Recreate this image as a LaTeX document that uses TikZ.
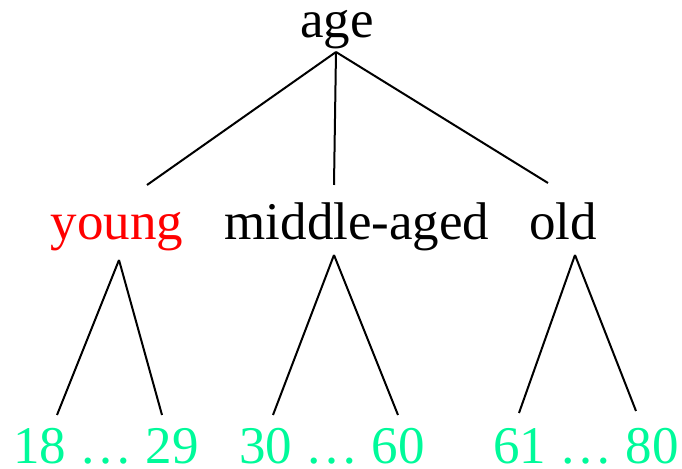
\documentclass[tikz,border=0pt]{standalone}
\usepackage{fontspec}
\setmainfont{Liberation Serif}
\definecolor{rangegreen}{RGB}{0,250,154}
\begin{document}
\begin{tikzpicture}[x=0.5pt,y=-0.5pt,
  lbl/.style={anchor=base,inner sep=0pt,font=\fontsize{26.5pt}{30pt}\selectfont},
  edge/.style={line width=1pt,black}]
\useasboundingbox (0,0) rectangle (682,469);
% labels
\node[lbl] (age) at (337,38) {age};
\node[lbl,text=red] (young) at (117,240) {young};
\node[lbl] (middle) at (357,240) {middle-aged};
\node[lbl] (old) at (563,240) {old};
\node[lbl,text=rangegreen] (r1) at (106,464) {18 … 29};
\node[lbl,text=rangegreen] (r2) at (332,464) {30 … 60};
\node[lbl,text=rangegreen] (r3) at (586,464) {61 … 80};
% connector ends
\coordinate (ageB) at (336,52);
\coordinate (youngT) at (147,185);
\coordinate (middleT) at (334,185);
\coordinate (oldT) at (548,183);
\coordinate (youngB) at (119,260);
\coordinate (middleB) at (334,255);
\coordinate (oldB) at (575,255);
\coordinate (r1L) at (57,415);
\coordinate (r1R) at (162,415);
\coordinate (r2L) at (273,415);
\coordinate (r2R) at (398,415);
\coordinate (r3L) at (519,413);
\coordinate (r3R) at (636,411);
% connectors
\draw[edge] (ageB) -- (youngT);
\draw[edge] (ageB) -- (middleT);
\draw[edge] (ageB) -- (oldT);
\draw[edge] (youngB) -- (r1L);
\draw[edge] (youngB) -- (r1R);
\draw[edge] (middleB) -- (r2L);
\draw[edge] (middleB) -- (r2R);
\draw[edge] (oldB) -- (r3L);
\draw[edge] (oldB) -- (r3R);
\end{tikzpicture}
\end{document}
